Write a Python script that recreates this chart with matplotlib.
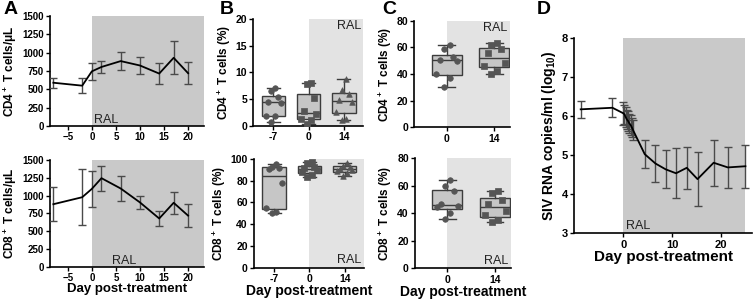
import numpy as np
import matplotlib.pyplot as plt

plt.rcParams['font.family'] = ['Liberation Sans', 'DejaVu Sans']
plt.rcParams['font.weight'] = 'bold'
plt.rcParams['axes.labelweight'] = 'bold'
plt.rcParams['mathtext.fontset'] = 'custom'
plt.rcParams['mathtext.bf'] = 'Liberation Sans:bold'
plt.rcParams['mathtext.rm'] = 'Liberation Sans:bold'
plt.rcParams['mathtext.default'] = 'bf'

# Panel A: absolute counts (mean +/- error)
daysA = [-8, -2, 0, 2, 6, 10, 14, 17, 20]
cd4_count = [590, 550, 745, 805, 885, 825, 715, 930, 720]
cd4_err = [70, 100, 115, 80, 120, 115, 145, 225, 150]
cd8_count = [880, 978, 1095, 1245, 1100, 905, 680, 900, 720]
cd8_err = [235, 390, 255, 175, 170, 95, 100, 155, 160]

# Panel B: % of T cells
daysB = ['-7', '0', '14']
cd4_pct = [[7.1, 6.5, 5.4, 4.5, 4.3, 1.9, 1.8, 0.7],
           [8.0, 7.8, 5.3, 2.8, 2.2, 1.4, 1.1, 0.4],
           [8.7, 6.8, 6.0, 4.8, 4.4, 2.7, 1.3, 1.2]]
cd8_pct = [[95, 93, 92, 91, 78, 55, 51, 50],
           [97, 96, 93, 92, 90, 88, 85, 83],
           [96, 94, 93, 91, 90, 89, 87, 84]]

# Panel C
daysC = ['0', '14']
cd4_pctC = [[61.5, 58.5, 52.5, 50.5, 50, 40, 37, 30.5],
            [63, 62, 59, 56, 48, 46, 42, 40]]
cd8_pctC = [[64.5, 60, 56, 47, 45.5, 44.5, 40, 35.5],
            [56.5, 55, 50, 47, 42, 38.5, 35, 34]]

# Panel D: viral load
daysD = [-8.7, -2.2, 0, 0.25, 0.5, 0.75, 1, 1.25, 1.5, 1.75, 2,
         4.4, 6.6, 8.7, 10.8, 13, 15.2, 18.5, 21.4, 25]
vl = [6.18, 6.22, 6.08, 6.05, 5.98, 5.92, 5.88, 5.82, 5.78, 5.72, 5.65,
      5.03, 4.79, 4.64, 4.54, 4.68, 4.39, 4.81, 4.69, 4.72]
vl_err = [0.21, 0.24, 0.3, 0.25, 0.25, 0.25, 0.25, 0.25, 0.25, 0.25, 0.25,
          0.36, 0.47, 0.49, 0.64, 0.54, 0.69, 0.59, 0.53, 0.55]

dark_shade = '#c9c9c9'
light_shade = '#e3e3e3'
box_face = '#c6c6c6'
edge = '#3c3c3c'
pt = '#555555'

fig = plt.figure(figsize=(7.56, 2.99), dpi=100)


def style(ax, size=7.5):
    for s in ['top', 'right']:
        ax.spines[s].set_visible(False)
    for s in ['left', 'bottom']:
        ax.spines[s].set_linewidth(1.2)
    ax.tick_params(labelsize=size, width=1.0, length=3, pad=1.5)
    for lab in ax.get_xticklabels() + ax.get_yticklabels():
        lab.set_fontweight('bold')


def line_panel(ax, x, y, err, ylab, xlab=None, ral_y=None):
    ax.set_xlim(-8.7, 23.3)
    ax.set_ylim(0, 1500)
    ax.axvspan(0, 23.3, color=dark_shade, lw=0, zorder=0)
    ax.errorbar(x, y, yerr=err, color='black', lw=1.3, ecolor='#4a4a4a',
                elinewidth=1.0, capsize=3, capthick=1.0, zorder=3)
    ax.set_yticks([0, 250, 500, 750, 1000, 1250, 1500])
    ax.set_xticks([-5, 0, 5, 10, 15, 20])
    ax.set_ylabel(ylab, fontsize=8.5, fontweight='bold', labelpad=2)
    if xlab:
        ax.set_xlabel(xlab, fontsize=9.5, fontweight='bold', labelpad=0)
    ax.text(ral_y[0], ral_y[1], 'RAL', fontsize=9, fontweight='normal',
            color='#222222', transform=ax.transData)
    style(ax, 7)


def box_panel(ax, groups, labels, ylim, yticks, ylab, markers, shade_from,
              ral_top, width, xlab=None):
    n = len(groups)
    pos = np.arange(n)
    left = -0.57 if n == 3 else -0.68
    right = n - 0.46 if n == 3 else n - 0.67
    ax.set_xlim(left, right)
    ax.set_ylim(*ylim)
    ax.axvspan(shade_from, right, color=light_shade, lw=0, zorder=0)
    bp = ax.boxplot(groups, positions=pos, widths=width, whis=(0, 100),
                    patch_artist=True, showfliers=False, zorder=2)
    for b in bp['boxes']:
        b.set(facecolor=box_face, edgecolor=edge, linewidth=1.0)
    for k in ['whiskers', 'caps', 'medians']:
        for l in bp[k]:
            l.set(color=edge, linewidth=1.0)
    for c in bp['caps']:
        xd = c.get_xdata()
        mid = xd.mean()
        c.set_xdata([mid - width * 0.28, mid + width * 0.28])
    for i, g in enumerate(groups):
        m = len(g)
        offs = np.array([(-1) ** j * (0.06 + 0.08 * ((j // 2) % 3)) for j in range(m)])
        ax.scatter(pos[i] + offs, g, s=16, marker=markers[i], color=pt,
                   edgecolor=pt, zorder=4, lw=0.5)
    ax.set_xticks(pos)
    ax.set_xticklabels(labels)
    ax.set_yticks(yticks)
    ax.set_ylabel(ylab, fontsize=8.5, fontweight='bold', labelpad=2)
    if xlab:
        ax.set_xlabel(xlab, fontsize=10, fontweight='bold', labelpad=0)
    if ral_top:
        ax.text(right - 0.06, ylim[1] * 0.93, 'RAL', ha='right', va='center',
                fontsize=9, fontweight='normal', color='#222222')
    else:
        ax.text(right - 0.06, ylim[1] * 0.07, 'RAL', ha='right', va='center',
                fontsize=9, fontweight='normal', color='#222222')
    style(ax)


# A
axA1 = fig.add_axes([0.0661, 0.5786, 0.2037, 0.3679])
line_panel(axA1, daysA, cd4_count, cd4_err, 'CD4$^+$ T cells/\u03bcL',
           ral_y=(0.4, 45))
axA2 = fig.add_axes([0.0661, 0.107, 0.2037, 0.358])
line_panel(axA2, daysA, cd8_count, cd8_err, 'CD8$^+$ T cells/\u03bcL',
           xlab='Day post-treatment', ral_y=(4.2, 45))

# B
axB1 = fig.add_axes([0.335, 0.5786, 0.1451, 0.358])
box_panel(axB1, cd4_pct, daysB, (0, 20), [0, 5, 10, 15, 20],
          'CD4$^+$ T cells (%)', ['o', 's', '^'], 1, True, 0.66)
axB2 = fig.add_axes([0.336, 0.1047, 0.1451, 0.3635])
box_panel(axB2, cd8_pct, daysB, (0, 100), [0, 20, 40, 60, 80, 100],
          'CD8$^+$ T cells (%)', ['o', 's', '^'], 1, False, 0.66,
          xlab='Day post-treatment')

# C
axC1 = fig.add_axes([0.548, 0.5742, 0.1266, 0.3565])
box_panel(axC1, cd4_pctC, daysC, (0, 80), [0, 20, 40, 60, 80],
          'CD4$^+$ T cells (%)', ['o', 's'], 0, True, 0.63)
axC2 = fig.add_axes([0.549, 0.1027, 0.1266, 0.3679])
box_panel(axC2, cd8_pctC, daysC, (0, 80), [0, 20, 40, 60, 80],
          'CD8$^+$ T cells (%)', ['o', 's'], 0, False, 0.63,
          xlab='Day post-treatment')

# D
axD = fig.add_axes([0.7597, 0.2197, 0.2347, 0.652])
axD.set_xlim(-10, 26.3)
axD.set_ylim(3, 8)
axD.axvspan(0, 25, color=dark_shade, lw=0, zorder=0)
axD.errorbar(daysD, vl, yerr=vl_err, color='black', lw=1.3, ecolor='#4a4a4a',
             elinewidth=1.0, capsize=3, capthick=1.0, zorder=3)
axD.set_xticks([0, 10, 20])
axD.set_yticks([3, 4, 5, 6, 7, 8])
axD.set_ylabel('SIV RNA copies/ml (log$_{10}$)', fontsize=10,
               fontweight='bold', labelpad=3)
axD.set_xlabel('Day post-treatment', fontsize=11, fontweight='bold', labelpad=0)
axD.text(0.6, 3.1, 'RAL', fontsize=9, fontweight='normal', color='#222222')
style(axD, 8)

# panel letters
for lab, x in [('A', 0.004), ('B', 0.291), ('C', 0.506), ('D', 0.71)]:
    fig.text(x, 0.998, lab, fontsize=14, fontweight='bold', va='top')

fig.savefig('out.png', dpi=100)
